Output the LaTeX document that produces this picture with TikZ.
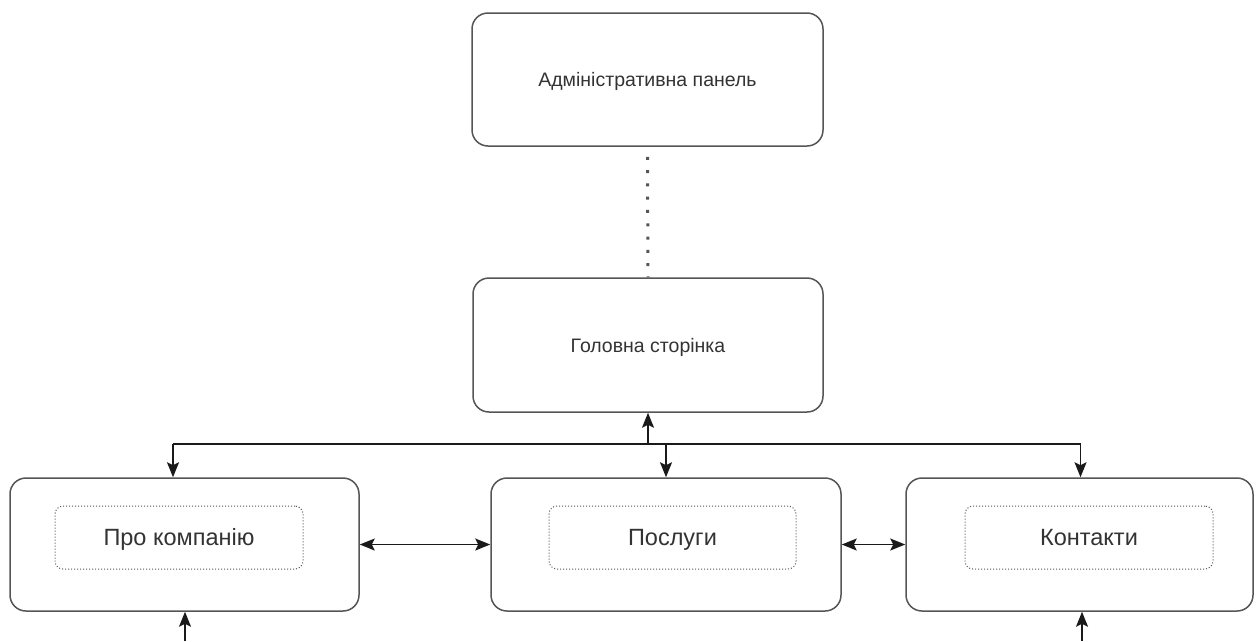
\documentclass[tikz,border=0pt]{standalone}
\usepackage{fontspec}
\setmainfont{Liberation Sans}
\usetikzlibrary{arrows.meta}
\definecolor{boxline}{HTML}{555555}
\definecolor{txt}{HTML}{333333}
\definecolor{arrline}{HTML}{1A1A1A}
\tikzset{
  pagebox/.style={draw=boxline, line width=1.5pt, rounded corners=16pt, fill=white,
    inner sep=0pt, text=txt, font=\fontsize{19.5}{22}\selectfont,
    text height=14pt, text depth=0pt},
  bigbox/.style={pagebox, minimum height=133pt},
  innerbox/.style={draw=boxline, dotted, line width=1pt, rounded corners=8pt,
    minimum width=248pt, minimum height=63pt, inner sep=0pt, text=txt,
    font=\fontsize{23.5}{26}\selectfont, text height=16.9pt, text depth=0pt},
  arr/.style={draw=arrline, line width=1.6pt, -{Stealth[length=15pt,width=12pt,inset=3pt]}},
  biarr/.style={draw=arrline, line width=1.6pt, {Stealth[length=15pt,width=12pt,inset=3pt]}-{Stealth[length=15pt,width=12pt,inset=3pt]}},
  bus/.style={draw=arrline, line width=1.6pt},
  dotline/.style={draw=boxline, line width=3pt, dash pattern=on 3pt off 10.3pt}
}
\begin{document}
\begin{tikzpicture}[x=1pt,y=-1pt]
\useasboundingbox (0,0) rectangle (1260,641);
% top
\node[pagebox, minimum width=351pt, minimum height=133pt] (admin) at (647.5,79.5) {Адміністративна панель};
\node[pagebox, minimum width=350pt, minimum height=134pt] (main) at (648,345) {Головна сторінка};
% bottom boxes
\node[bigbox, minimum width=349pt] (about) at (184.5,544.5) {};
\node[bigbox, minimum width=350pt] (services) at (666,544.5) {};
\node[bigbox, minimum width=347pt] (contacts) at (1079.5,544.5) {};
\node[innerbox] (aboutin) at (179,537.5) {Про компанію};
\node[innerbox, minimum width=247pt] (servicesin) at (672.5,537.5) {Послуги};
\node[innerbox] (contactsin) at (1089,537.5) {Контакти};
% dotted link
\draw[dotline] ([yshift=-10pt]admin.south) -- (main.north);
% bus
\coordinate (busL) at (173,444);
\coordinate (busR) at (1080.5,444);
\draw[bus] (busL) -- (busR);
\draw[arr] (main.south |- busL) -- (main.south);
\draw[arr] (busL) -- (busL |- about.north);
\draw[arr] (services.north |- busL) -- (services.north);
\draw[arr] (busR) -- (busR |- contacts.north);
% side links
\draw[biarr] (about.east) -- (services.west);
\draw[biarr] (services.east) -- (contacts.west);
% incoming from below
\coordinate (inA) at (185,641);
\coordinate (inC) at (1082,641);
\draw[arr] (inA) -- (inA |- about.south);
\draw[arr] (inC) -- (inC |- contacts.south);
\end{tikzpicture}
\end{document}
